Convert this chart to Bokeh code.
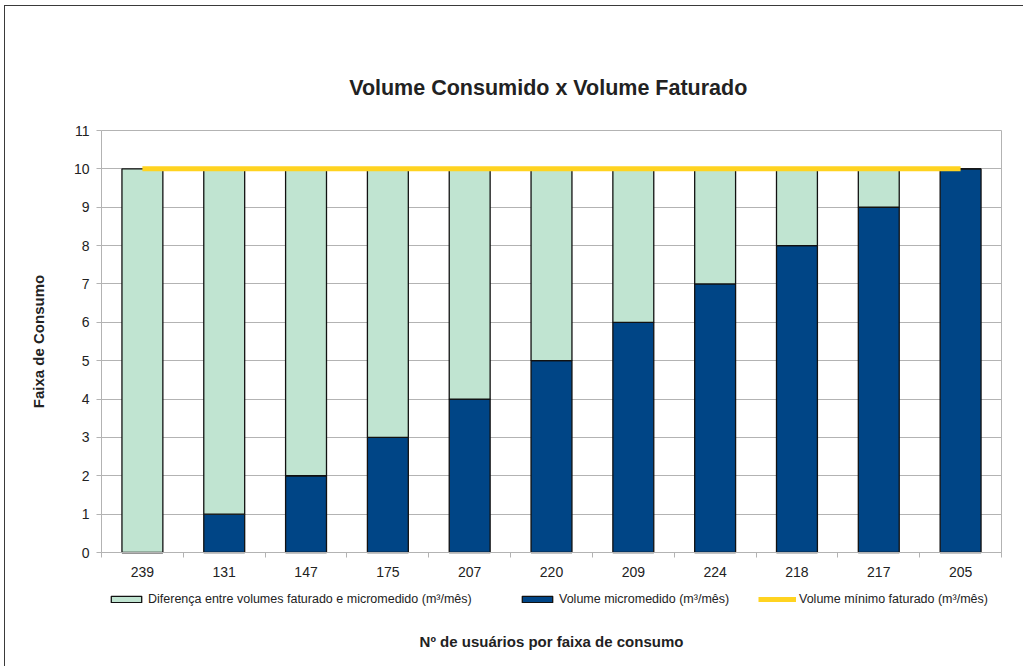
import math
from bokeh.plotting import figure
from bokeh.models import (FixedTicker, Legend, LegendItem, ColumnDataSource, Range1d,
                          LinearAxis, Label, Grid)
from bokeh.embed import file_html
from bokeh.resources import INLINE

# ---- data ----
categories = ["239", "131", "147", "175", "207", "220", "209", "224", "218", "217", "205"]
micromedido = [0, 1, 2, 3, 4, 5, 6, 7, 8, 9, 10]
minimo_faturado = [10, 10, 10, 10, 10, 10, 10, 10, 10, 10, 10]
diferenca = [m - v for m, v in zip(minimo_faturado, micromedido)]
y_ticks = list(range(0, 12))
Y_MAX = 11

title_text = "Volume Consumido x Volume Faturado"
ylabel_text = "Faixa de Consumo"
xlabel_text = "Nº de usuários por faixa de consumo"

FONT = "Liberation Sans"
DARK = "#004586"
GREEN = "#c0e4d1"
YELLOW = "#ffd320"
GRID = "#b3b3b3"
TXT = "#222222"

n = len(categories)
xc = [i + 0.5 for i in range(n)]

# ---- layout (pixels on the page) ----
CANVAS_X0, CANVAS_Y0 = 5, 6          # canvas top-left on page
CANVAS_W, CANVAS_H = 1019, 661
AREA_LEFT, AREA_RIGHT = 101, 1001    # plot area
AREA_TOP, AREA_BOTTOM = 130, 552
X_PX = (AREA_RIGHT - AREA_LEFT) / n
Y_PX = (AREA_BOTTOM - AREA_TOP) / Y_MAX


def xd(px):
    return (px - AREA_LEFT) / X_PX


def yd(py):
    return (AREA_BOTTOM - py) / Y_PX


x_range = Range1d(xd(CANVAS_X0), xd(CANVAS_X0 + CANVAS_W))
y_range = Range1d(yd(CANVAS_Y0 + CANVAS_H), yd(CANVAS_Y0))

src = ColumnDataSource(dict(
    x=xc, cat=categories, micro=micromedido, top=minimo_faturado, dif=diferenca,
))

p = figure(width=CANVAS_W, height=CANVAS_H, output_backend="svg", toolbar_location=None,
           x_range=x_range, y_range=y_range, title=None,
           min_border_left=0, min_border_right=0, min_border_top=0,
           min_border_bottom=0)
p.styles = {"border-left": "1px solid #3a3a3a", "border-top": "1px solid #3a3a3a",
            "margin-left": "4px", "margin-top": "5px"}
p.outline_line_color = None

# grid (horizontal lines limited to the plot area)
p.xgrid.visible = False
yg = p.ygrid[0]
if "cross_bounds" in Grid.properties():
    yg.grid_line_color = GRID
    yg.ticker = FixedTicker(ticks=y_ticks)
    yg.bounds = (0, Y_MAX)
    yg.cross_bounds = (0, n)
else:
    yg.visible = False
    p.segment(x0=0, x1=n, y0=y_ticks, y1=y_ticks, line_color=GRID, line_width=1)

r_dark = p.vbar(x="x", bottom=0, top="micro", width=0.5, source=src,
                fill_color=DARK, line_color="#111111", line_width=1.3)
r_green = p.vbar(x="x", bottom="micro", top="top", width=0.5, source=src,
                 fill_color=GREEN, line_color="#111111", line_width=1.3)
r_line = p.line(x="x", y="top", source=src, line_color=YELLOW, line_width=5)

# y axis at x = 0
ya = p.yaxis[0]
ya.fixed_location = 0
ya.ticker = FixedTicker(ticks=y_ticks)
ya.bounds = (0, Y_MAX)
ya.axis_line_color = GRID
ya.major_tick_line_color = GRID
ya.major_tick_out = 5
ya.major_tick_in = 0
ya.minor_tick_line_color = None
ya.major_label_text_font = FONT
ya.major_label_text_font_size = "14px"
ya.major_label_text_color = TXT
ya.major_label_standoff = 7

# right border of the plot area
rax = LinearAxis(ticker=FixedTicker(ticks=[]), bounds=(0, Y_MAX), fixed_location=n,
                 axis_line_color=GRID, major_tick_out=0, major_tick_in=0,
                 minor_tick_out=0, minor_tick_in=0, major_label_standoff=0,
                 minor_tick_line_color=None, major_tick_line_color=None)
p.add_layout(rax, "right")

# x axis at y = 0
xa = p.xaxis[0]
xa.fixed_location = 0
xa.bounds = (0, n)
xa.ticker = FixedTicker(ticks=xc, minor_ticks=list(range(n + 1)))
xa.major_label_overrides = {x: c for x, c in zip(xc, categories)}
xa.axis_line_color = GRID
xa.major_tick_line_color = None
xa.major_tick_out = 0
xa.major_tick_in = 0
xa.minor_tick_line_color = GRID
xa.minor_tick_out = 5
xa.minor_tick_in = 0
xa.major_label_text_font = FONT
xa.major_label_text_font_size = "14px"
xa.major_label_text_color = TXT
xa.major_label_standoff = 9
xa.axis_label = xlabel_text
xa.axis_label_text_font = FONT
xa.axis_label_text_font_size = "15px"
xa.axis_label_text_font_style = "bold"
xa.axis_label_text_color = TXT
xa.axis_label_standoff = 53

# title and y-axis title
p.add_layout(Label(x=n / 2 - 0.04, y=yd(87), text=title_text, text_align="center",
                   text_baseline="middle", text_font=FONT, text_font_size="21.5px",
                   text_font_style="bold", text_color=TXT))
p.add_layout(Label(x=xd(38), y=Y_MAX / 2, text=ylabel_text, angle=math.pi / 2,
                   text_align="center", text_baseline="middle", text_font=FONT,
                   text_font_size="15px", text_font_style="bold", text_color=TXT))

# legends
LEG_BOTTOM_PX = 606
legend_specs = [
    ("Diferença entre volumes faturado e micromedido (m³/mês)", r_green, 107),
    ("Volume micromedido (m³/mês)", r_dark, 518),
    ("Volume mínimo faturado (m³/mês)", r_line, 758),
]
for label, rend, xpx in legend_specs:
    lg = Legend(items=[LegendItem(label=label, renderers=[rend])],
                location=(xpx - CANVAS_X0, CANVAS_Y0 + CANVAS_H - LEG_BOTTOM_PX),
                orientation="horizontal",
                glyph_width=38, glyph_height=8, label_height=8,
                label_standoff=3, padding=0, margin=0, spacing=0,
                border_line_color=None, background_fill_alpha=0,
                label_text_font=FONT, label_text_font_size="12.5px",
                label_text_color=TXT)
    p.add_layout(lg, "center")

open("out.html", "w").write(file_html(p, INLINE))
